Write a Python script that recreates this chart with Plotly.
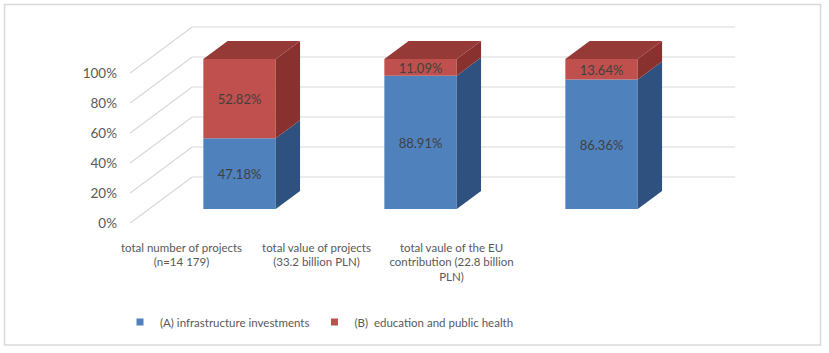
import plotly.graph_objects as go

# ---------------- data ----------------
categories = [
    "total number of projects<br>(n=14 179)",
    "total value of projects<br>(33.2 billion PLN)",
    "total vaule of the EU<br>contribution (22.8 billion<br>PLN)",
]
series_names = ["(A) infrastructure investments", "(B)  education and public health"]
infra_pct = [47.18, 88.91, 86.36]
edu_pct = [52.82, 11.09, 13.64]
y_ticks = [0, 20, 40, 60, 80, 100]
y_tick_labels = ["0%", "20%", "40%", "60%", "80%", "100%"]

# ---------------- style ----------------
front_cols = ["#4f81bd", "#c0504d"]
side_cols = ["#2e5180", "#88312f"]
top_cols = ["#2f5583", "#963a38"]
grid_col = "#d9d9d9"
txt_col = "#595959"
FONT = "Lato"

# oblique projection of the 3-D box
DX = 0.3425      # x shift for full depth (category units)
DY = 30.67       # y shift for full depth (percent units)
ZF, ZB = 0.304, 0.696   # bar front / back depth
BW = 0.40               # bar width
LABEL_NUDGE = -1.7      # optical centring of data labels (percent units)


def proj(x, v, z):
    return x + z * DX, v + z * DY


fig = go.Figure()
shapes = []

# gridlines: left side wall diagonal + back wall horizontal (below the bars)
for v in y_ticks:
    p0 = proj(-0.5, v, 0)
    p1 = proj(-0.5, v, 1)
    p2 = proj(len(categories) - 0.5, v, 1)
    for a, b in ((p0, p1), (p1, p2)):
        shapes.append(dict(type="line", xref="x", yref="y", layer="below",
                           x0=a[0], y0=a[1], x1=b[0], y1=b[1],
                           line=dict(color=grid_col, width=1.2)))

series = [infra_pct, edu_pct]
lab_x, lab_y, lab_t = [], [], []
for i in range(len(categories)):
    base = 0.0
    for s, vals in enumerate(series):
        val = vals[i]
        top = base + val
        fx, fy = proj(i, base, ZF)
        # front face
        fig.add_trace(go.Bar(x=[fx], y=[val], base=[fy], width=BW,
                             marker=dict(color=front_cols[s], line=dict(width=0)),
                             hoverinfo="skip", showlegend=False))
        lab_x.append(fx)
        lab_y.append(fy + val / 2 + LABEL_NUDGE)
        lab_t.append(f"{val:.2f}%")
        # right side face
        xr = i + BW / 2
        pts = [proj(xr, base, ZF), proj(xr, base, ZB), proj(xr, top, ZB), proj(xr, top, ZF)]
        fig.add_trace(go.Scatter(x=[p[0] for p in pts] + [pts[0][0]],
                                 y=[p[1] for p in pts] + [pts[0][1]],
                                 mode="lines", fill="toself", fillcolor=side_cols[s],
                                 line=dict(width=0, color=side_cols[s]),
                                 hoverinfo="skip", showlegend=False))
        # top face of the stack
        if s == len(series) - 1:
            xl = i - BW / 2
            pts = [proj(xl, top, ZF), proj(xr, top, ZF), proj(xr, top, ZB), proj(xl, top, ZB)]
            fig.add_trace(go.Scatter(x=[p[0] for p in pts] + [pts[0][0]],
                                     y=[p[1] for p in pts] + [pts[0][1]],
                                     mode="lines", fill="toself", fillcolor=top_cols[s],
                                     line=dict(width=0, color=top_cols[s]),
                                     hoverinfo="skip", showlegend=False))
        base = top

# data labels
fig.add_trace(go.Scatter(x=lab_x, y=lab_y, text=lab_t, mode="text",
                         textfont=dict(family=FONT, size=13, color="#404040"),
                         hoverinfo="skip", showlegend=False))

# legend entries
for s, name in enumerate(series_names):
    fig.add_trace(go.Scatter(x=[None], y=[None], mode="markers", name=name,
                             marker=dict(symbol="square", size=7, color=front_cols[s])))

# category labels on a secondary x axis
fig.add_trace(go.Scatter(x=list(range(len(categories))), y=[None] * len(categories),
                         xaxis="x2", mode="markers", hoverinfo="skip", showlegend=False))

W, H = 829, 353
shapes.append(dict(type="rect", xref="paper", yref="paper",
                   x0=4.5 / W, x1=820.5 / W, y0=1 - 345 / H, y1=1 - 4.5 / H,
                   line=dict(color="#d9d9d9", width=1.5), fillcolor="rgba(0,0,0,0)"))

fig.update_layout(
    width=W, height=H,
    margin=dict(l=0, r=0, t=0, b=0),
    paper_bgcolor="white", plot_bgcolor="white",
    barmode="overlay",
    font=dict(family=FONT, size=13, color=txt_col),
    xaxis=dict(range=[-1.2193, 3.3608], visible=False, fixedrange=True),
    xaxis2=dict(overlaying="x", anchor="free", position=1 - 239 / H,
                range=[-181.5 / 135, (W - 181.5) / 135],
                tickmode="array", tickvals=list(range(len(categories))), ticktext=categories,
                showgrid=False, zeroline=False, showline=False, ticks="",
                tickfont=dict(family=FONT, size=11.5, color=txt_col), side="bottom"),
    yaxis=dict(range=[(223 - H) / 1.5, 223 / 1.5], anchor="free", position=130 / W,
               tickmode="array", tickvals=y_ticks, ticktext=y_tick_labels,
               showgrid=False, zeroline=False, showline=False, ticks="",
               ticklabelstandoff=13,
               tickfont=dict(family=FONT, size=13.5, color=txt_col)),
    showlegend=True,
    legend=dict(orientation="h", x=120 / W, xanchor="left", y=1 - 322 / H, yanchor="middle",
                font=dict(family=FONT, size=11.5, color=txt_col), bgcolor="rgba(0,0,0,0)",
                itemclick=False, itemdoubleclick=False),
    shapes=shapes,
)

fig.write_html("out.html", config={"displayModeBar": False},
               post_script="document.body.style.margin='0';")
